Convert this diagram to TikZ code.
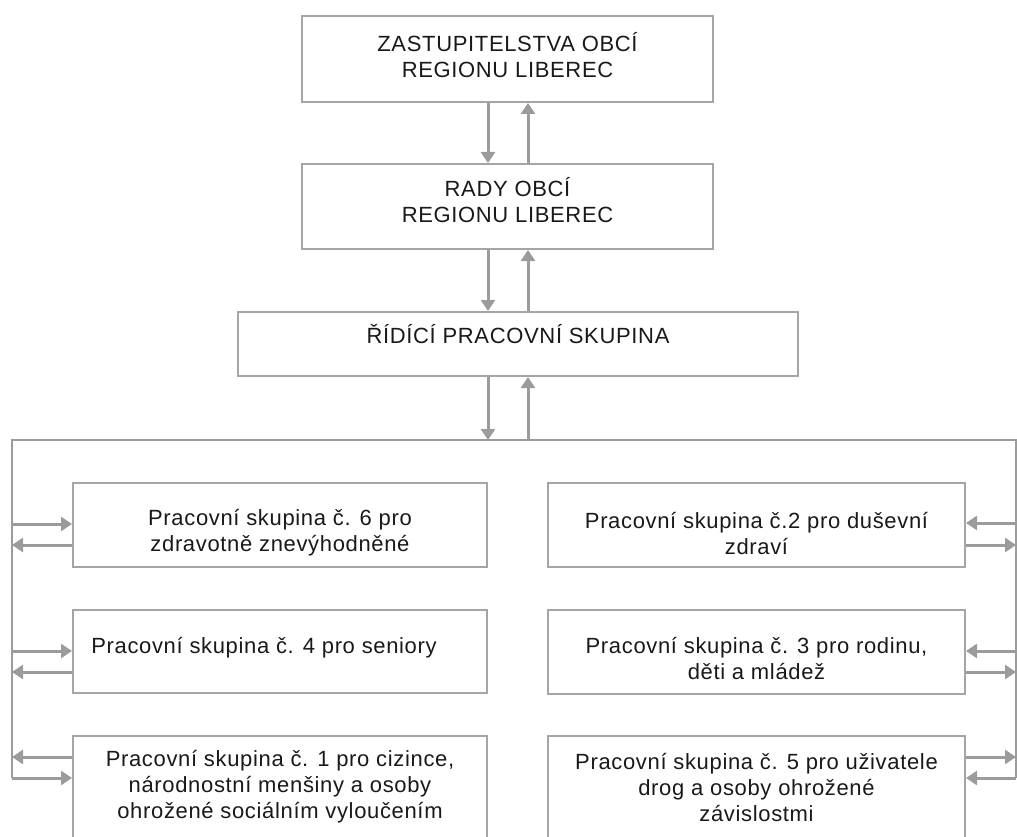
\documentclass[tikz,border=0pt]{standalone}
\usepackage{fontspec}
\setmainfont[LetterSpace=3]{Liberation Sans}
\usetikzlibrary{arrows.meta}
\definecolor{linegray}{RGB}{155,155,155}
\definecolor{boxgray}{RGB}{165,165,165}

\begin{document}
\begin{tikzpicture}[x=1pt,y=-1pt,
    box/.style={draw=boxgray, line width=2pt, inner sep=0pt},
    txt/.style={align=center, inner sep=0pt, font=\fontsize{22}{26}\selectfont, text=black!90},
    arr/.style={draw=linegray, line width=3pt, -{Triangle[length=11pt,width=14pt]}},
    bus/.style={draw=linegray, line width=2pt}]
  \useasboundingbox (0,0) rectangle (1017,837);
  \clip (0,0) rectangle (1017,837);

  % top of the hierarchy
  \node[box, minimum width=411, minimum height=86,
    label={[txt, yshift=4pt]center:ZASTUPITELSTVA OBCÍ\\REGIONU LIBEREC}] (zast) at (507.5,59) {};
  \node[box, minimum width=411, minimum height=85,
    label={[txt, yshift=6pt]center:RADY OBCÍ\\REGIONU LIBEREC}] (rady) at (507.5,206.5) {};
  \node[box, minimum width=560, minimum height=64,
    label={[txt, yshift=10pt]center:ŘÍDÍCÍ PRACOVNÍ SKUPINA}] (ridici) at (518,344) {};

  % working groups, left column
  \node[box, minimum width=414, minimum height=84,
    label={[txt, yshift=-8pt]center:Pracovní skupina č. 6 pro\\zdravotně znevýhodněné}] (ps6) at (280,525) {};
  \node[box, minimum width=414, minimum height=83,
    label={[txt, yshift=4pt, xshift=-16pt]center:Pracovní skupina č. 4 pro seniory}] (ps4) at (280,651.5) {};
  \node[box, minimum width=414, minimum height=102,
    label={[txt]center:Pracovní skupina č. 1 pro cizince,\\národnostní menšiny a osoby\\ohrožené sociálním vyloučením}] (ps1) at (280,787) {};

  % working groups, right column
  \node[box, minimum width=417, minimum height=84,
    label={[txt, yshift=-9pt]center:Pracovní skupina č.2 pro duševní\\zdraví}] (ps2) at (756.5,525) {};
  \node[box, minimum width=417, minimum height=84,
    label={[txt, yshift=-7pt]center:Pracovní skupina č. 3 pro rodinu,\\děti a mládež}] (ps3) at (756.5,652) {};
  \node[box, minimum width=417, minimum height=102,
    label={[txt]center:Pracovní skupina č. 5 pro uživatele\\drog a osoby ohrožené\\závislostmi}] (ps5) at (756.5,787) {};

  \coordinate (dn) at (488,0);
  \coordinate (up) at (528,0);
  \coordinate (busL) at (12,440);
  \coordinate (busR) at (1016,440);
  \coordinate (lbot) at (12,778);
  \coordinate (rbot) at (1016,778);

  \draw[arr] (zast.south -| dn) -- (rady.north -| dn);
  \draw[arr] (rady.north -| up) -- (zast.south -| up);
  \draw[arr] (rady.south -| dn) -- (ridici.north -| dn);
  \draw[arr] (ridici.north -| up) -- (rady.south -| up);
  \draw[arr] (ridici.south -| dn) -- (busL -| dn);
  \draw[arr] (busL -| up) -- (ridici.south -| up);

  \draw[bus] (lbot) -- (busL) -- (busR) -- (rbot);

  % box / row into box / row back to the bus
  \foreach \b/\yin/\yout in {ps6/524/545, ps4/651/672, ps1/778/757}{
    \draw[arr] (busL |- 0,\yin) -- (\b.west |- 0,\yin);
    \draw[arr] (\b.west |- 0,\yout) -- (busL |- 0,\yout);
  }
  \foreach \b/\yin/\yout in {ps2/523/545, ps3/651/672, ps5/778/757}{
    \draw[arr] (busR |- 0,\yin) -- (\b.east |- 0,\yin);
    \draw[arr] (\b.east |- 0,\yout) -- (busR |- 0,\yout);
  }
\end{tikzpicture}
\end{document}
